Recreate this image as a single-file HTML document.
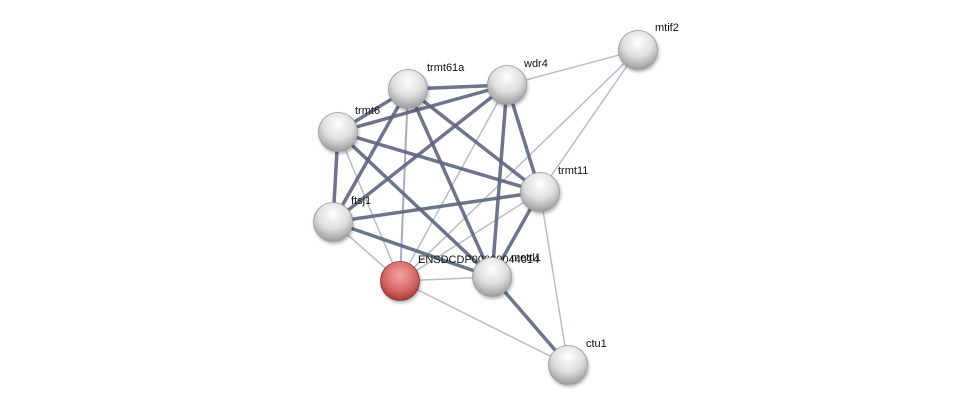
<!DOCTYPE html>
<html><head><meta charset="utf-8"><style>
html,body{margin:0;padding:0;background:#fff;}
svg{display:block;}
text{font-family:"Liberation Sans",sans-serif;font-size:11px;fill:#111;}
</style></head><body>
<svg width="975" height="410" viewBox="0 0 975 410">
<defs>
<radialGradient id="g" cx="0.5" cy="0.3" r="0.7">
<stop offset="0" stop-color="#ffffff"/><stop offset="0.55" stop-color="#dedede"/><stop offset="1" stop-color="#9c9c9c"/>
</radialGradient>
<radialGradient id="r" cx="0.5" cy="0.35" r="0.7">
<stop offset="0" stop-color="#f4a4a4"/><stop offset="0.55" stop-color="#d86a6a"/><stop offset="1" stop-color="#9e3434"/>
</radialGradient>
<filter id="s" x="-30%" y="-30%" width="160%" height="170%">
<feDropShadow dx="1" dy="2" stdDeviation="1.5" flood-color="#000" flood-opacity="0.3"/>
</filter>
</defs>
<g stroke="#b8bccb" stroke-width="1.5" fill="none">
<line x1="638" y1="50" x2="507" y2="85"/>
<line x1="638" y1="50" x2="540" y2="192"/>
<line x1="638" y1="50" x2="400" y2="281"/>
<line x1="507" y1="85" x2="400" y2="281"/>
<line x1="540" y1="192" x2="400" y2="281"/>
<line x1="338" y1="132" x2="400" y2="281"/>
<line x1="333" y1="222" x2="400" y2="281"/>
<line x1="400" y1="281" x2="492" y2="277"/>
<line x1="400" y1="281" x2="568" y2="365"/>
<line x1="540" y1="192" x2="568" y2="365"/>
<line x1="408" y1="89" x2="400" y2="281" stroke="#a8aec0" stroke-width="2"/>
</g>
<g stroke="#5d6580" stroke-width="3.5" fill="none" stroke-opacity="0.9">
<line x1="408" y1="89" x2="507" y2="85"/>
<line x1="408" y1="89" x2="338" y2="132"/>
<line x1="338" y1="132" x2="507" y2="85"/>
<line x1="338" y1="132" x2="333" y2="222"/>
<line x1="408" y1="89" x2="333" y2="222"/>
<line x1="507" y1="85" x2="333" y2="222"/>
<line x1="338" y1="132" x2="540" y2="192"/>
<line x1="338" y1="132" x2="492" y2="277"/>
<line x1="408" y1="89" x2="540" y2="192"/>
<line x1="408" y1="89" x2="492" y2="277"/>
<line x1="507" y1="85" x2="540" y2="192"/>
<line x1="507" y1="85" x2="492" y2="277"/>
<line x1="333" y1="222" x2="540" y2="192"/>
<line x1="333" y1="222" x2="492" y2="277"/>
<line x1="540" y1="192" x2="492" y2="277"/>
<line x1="492" y1="277" x2="568" y2="365"/>
</g>
<g filter="url(#s)">
<circle cx="638" cy="50" r="19.5" fill="url(#g)" stroke="#999" stroke-width="0.8"/>
<circle cx="507" cy="85" r="19.5" fill="url(#g)" stroke="#999" stroke-width="0.8"/>
<circle cx="408" cy="89" r="19.5" fill="url(#g)" stroke="#999" stroke-width="0.8"/>
<circle cx="338" cy="132" r="19.5" fill="url(#g)" stroke="#999" stroke-width="0.8"/>
<circle cx="540" cy="192" r="19.5" fill="url(#g)" stroke="#999" stroke-width="0.8"/>
<circle cx="333" cy="222" r="19.5" fill="url(#g)" stroke="#999" stroke-width="0.8"/>
<circle cx="400" cy="281" r="19.5" fill="url(#r)" stroke="#8a3030" stroke-width="0.8"/>
<circle cx="568" cy="365" r="19.5" fill="url(#g)" stroke="#999" stroke-width="0.8"/>
</g>
<text x="655" y="31">mtif2</text>
<text x="524" y="67">wdr4</text>
<text x="427" y="71">trmt61a</text>
<text x="355" y="114">trmt6</text>
<text x="558" y="174">trmt11</text>
<text x="351" y="204">ftsj1</text>
<text x="418" y="263">ENSDCDP00000044014</text>
<text x="586" y="347">ctu1</text>
<circle cx="492" cy="277" r="19.5" fill="url(#g)" stroke="#999" stroke-width="0.8" filter="url(#s)"/>
<text x="511" y="261">mettl1</text>
</svg>
</body></html>
